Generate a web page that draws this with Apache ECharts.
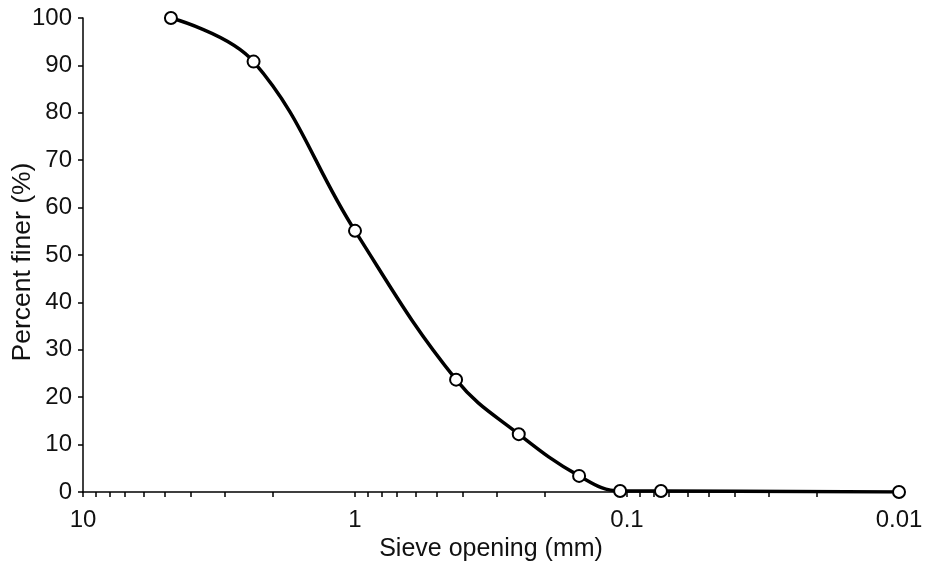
<!DOCTYPE html>
<html>
<head>
<meta charset="utf-8">
<script src="https://cdn.jsdelivr.net/npm/echarts@6/dist/echarts.min.js"></script>
<style>html,body{margin:0;padding:0;background:#fff}#c{width:928px;height:561px}</style>
</head>
<body>
<div id="c"></div>
<script>
// Sieve opening (mm)
var sieveOpening = [4.75, 2.36, 1.0, 0.425, 0.25, 0.15, 0.106, 0.075, 0.01];
// Percent finer (%)
var percentFiner = [100, 90.8, 55.1, 23.7, 12.2, 3.4, 0.2, 0.2, 0];
// Axis tick values
var xTickLabels = [10, 1, 0.1, 0.01];
var xMinorTicks = [10, 9, 8, 7, 6, 5, 4, 3, 2, 1, 0.9, 0.8, 0.7, 0.6, 0.5, 0.4, 0.3, 0.2, 0.1,
  0.09, 0.08, 0.07, 0.06, 0.05, 0.04, 0.03, 0.02, 0.01];

var font = 'Liberation Sans, Arial, sans-serif';
var chart = echarts.init(document.getElementById('c'));
chart.setOption({
  animation: false,
  backgroundColor: '#fff',
  grid: { left: 83, right: 29, top: 18, bottom: 69, containLabel: false, outerBoundsMode: 'none' },
  xAxis: {
    type: 'log', logBase: 10, inverse: true, min: 0.01, max: 10,
    name: 'Sieve opening (mm)', nameLocation: 'middle', nameGap: 41,
    nameTextStyle: { color: '#111', fontSize: 25, fontFamily: font },
    axisLine: { show: true, onZero: false, lineStyle: { color: '#000', width: 1.5 } },
    axisTick: { show: true, inside: false, length: 5, customValues: xMinorTicks, lineStyle: { color: '#000', width: 1.5 } },
    axisLabel: { show: true, customValues: xTickLabels, margin: 16, color: '#111', fontSize: 24, fontFamily: font,
      formatter: function (v) { return String(+v.toPrecision(6)); } },
    splitLine: { show: false }, minorTick: { show: false }
  },
  yAxis: {
    type: 'value', min: 0, max: 100, interval: 10,
    name: 'Percent finer (%)', nameLocation: 'middle', nameGap: 47, nameRotate: 90, nameMoveOverlap: false,
    nameTextStyle: { color: '#111', fontSize: 26.5, fontFamily: font, padding: [0, 14, 0, 0] },
    axisLine: { show: true, lineStyle: { color: '#000', width: 1.5 } },
    axisTick: { show: true, inside: false, length: 5, lineStyle: { color: '#000', width: 1.5 } },
    axisLabel: { margin: 11, color: '#111', fontSize: 24, fontFamily: font },
    splitLine: { show: false }
  },
  series: [{
    type: 'line',
    data: sieveOpening.map(function (s, i) { return [s, percentFiner[i]]; }),
    smooth: 0.4,
    symbol: 'circle', symbolSize: 12,
    itemStyle: { color: '#fff', borderColor: '#000', borderWidth: 2 },
    lineStyle: { color: '#000', width: 3.5 },
    z: 3
  }]
});
</script>
</body>
</html>
